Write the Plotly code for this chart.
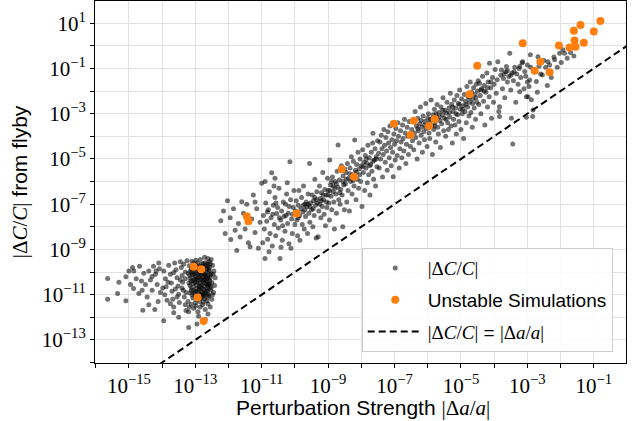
import plotly.graph_objects as go

# ---- data: (log10 |Δa/a|, log10 |ΔC/C|) ----
cluster_a_core = [
(-13.18,-9.72),(-13.05,-9.61),(-12.93,-9.78),(-12.81,-9.66),(-12.70,-9.59),(-12.62,-9.74),(-12.55,-9.63),(-13.12,-9.88),(-12.99,-9.95),(-12.87,-9.84),
(-12.76,-9.92),(-12.66,-9.86),(-12.58,-9.97),(-13.21,-10.05),(-13.08,-10.12),(-12.96,-10.03),(-12.84,-10.15),(-12.73,-10.07),(-12.63,-10.18),(-12.52,-10.09),
(-13.15,-10.27),(-13.02,-10.33),(-12.90,-10.24),(-12.79,-10.36),(-12.68,-10.29),(-12.57,-10.38),(-13.19,-10.48),(-13.06,-10.52),(-12.94,-10.44),(-12.82,-10.57),
(-12.71,-10.49),(-12.60,-10.55),(-12.50,-10.46),(-13.11,-10.69),(-12.98,-10.74),(-12.86,-10.66),(-12.75,-10.78),(-12.64,-10.71),(-12.54,-10.80),(-13.16,-10.91),
(-13.03,-10.96),(-12.91,-10.88),(-12.80,-11.01),(-12.69,-10.93),(-12.59,-11.04),(-13.07,-11.15),(-12.95,-11.21),(-12.83,-11.12),(-12.72,-11.18),(-12.61,-11.10),
(-13.10,-9.80),(-12.97,-9.70),(-12.85,-9.75),(-12.74,-9.80),(-12.60,-9.90),(-13.00,-10.20),(-12.88,-10.05),(-12.78,-10.22),(-12.67,-10.00),(-12.55,-10.25),
(-13.13,-10.40),(-12.92,-10.36),(-12.77,-10.42),(-12.65,-10.40),(-12.98,-10.60),(-12.86,-10.50),(-12.73,-10.62),(-12.62,-10.62),(-13.05,-10.82),(-12.90,-10.80),
(-12.78,-10.88),(-12.67,-10.84),(-12.95,-11.05),(-12.85,-10.98),(-12.75,-11.08),(-13.09,-10.02),(-12.82,-9.95),(-12.70,-10.12),(-12.58,-10.52),(-12.88,-11.30),
(-12.76,-11.32),(-12.65,-11.27),(-13.00,-11.36),
(-13.14,-9.95),(-13.02,-9.85),(-12.89,-9.90),(-12.79,-9.75),(-12.68,-9.72),(-12.57,-9.80),(-13.17,-10.15),(-13.04,-10.10),(-12.91,-10.12),(-12.80,-10.05),
(-12.69,-10.20),(-12.56,-10.12),(-13.08,-10.35),(-12.96,-10.28),(-12.83,-10.30),(-12.72,-10.34),(-12.61,-10.28),(-13.16,-10.60),(-13.01,-10.45),(-12.88,-10.62),
(-12.79,-10.70),(-12.66,-10.52),(-12.55,-10.62),(-13.12,-10.80),(-12.99,-10.88),(-12.87,-10.75),(-12.76,-10.95),(-12.63,-10.82),(-13.10,-11.02),(-12.98,-11.12),
(-12.86,-11.18),(-12.73,-11.00),(-12.62,-10.98),(-12.93,-9.60),(-12.76,-9.62),(-12.64,-9.64),
]
cluster_a_outer = [
(-13.95,-9.95),(-13.90,-10.30),(-13.88,-10.65),(-13.92,-11.00),(-13.85,-11.25),(-13.80,-9.70),(-13.75,-10.10),(-13.72,-10.48),(-13.70,-10.85),(-13.68,-11.20),
(-13.65,-11.55),(-13.62,-9.60),(-13.58,-9.90),(-13.55,-10.25),(-13.52,-10.62),(-13.50,-10.98),(-13.48,-11.35),(-13.45,-9.55),(-13.42,-9.80),(-13.40,-10.15),
(-13.38,-10.45),(-13.36,-10.80),(-13.33,-11.10),(-13.30,-11.45),(-13.28,-11.70),(-13.25,-9.50),(-13.22,-11.30),(-13.18,-11.55),(-13.12,-11.42),(-13.05,-11.60),
(-12.98,-11.50),(-12.92,-11.75),(-12.85,-11.55),(-12.78,-11.45),(-12.70,-11.65),(-12.62,-11.40),(-12.55,-11.55),(-12.50,-11.20),(-12.45,-10.90),(-12.42,-10.60),
(-12.40,-10.25),(-12.44,-9.95),(-12.48,-9.70),(-12.52,-9.45),(-12.62,-9.40),(-12.72,-9.35),(-12.85,-9.45),(-12.98,-9.48),(-13.10,-9.52),(-13.60,-10.75),
(-13.82,-10.45),(-13.98,-10.70),(-13.65,-10.02),(-13.45,-10.35),(-13.40,-10.70),(-13.55,-11.10),(-13.30,-10.00),(-13.30,-10.30),(-13.28,-10.90),(-13.35,-9.65),
(-12.46,-10.10),(-12.52,-10.70),(-12.48,-11.00),(-12.58,-9.55),(-13.75,-11.40),(-13.20,-11.75),(-12.90,-11.95),(-13.95,-12.15),(-13.50,-12.00),(-13.20,-12.45),
(-12.95,-12.30),(-12.70,-12.10),(-12.62,-11.85),(-13.65,-11.80),
]
cluster_a_tail = [
(-15.64,-10.28),(-15.64,-11.20),(-15.34,-10.95),(-15.09,-10.21),(-15.09,-11.27),(-14.89,-9.80),(-14.68,-9.74),(-14.86,-10.73),(-14.58,-11.69),(-14.26,-9.74),
(-14.78,-10.30),(-14.70,-10.95),(-14.55,-10.05),(-14.50,-10.55),(-14.45,-11.10),(-14.40,-9.95),(-14.35,-10.35),(-14.30,-10.80),(-14.20,-10.10),(-14.15,-10.55),
(-14.12,-11.30),(-14.08,-9.85),(-14.05,-10.90),(-14.95,-10.55),(-15.00,-9.95),(-14.62,-10.40),(-14.40,-11.45),(-14.22,-11.65),(-14.10,-9.60),(-14.85,-9.95),
(-15.30,-10.45),(-14.60,-10.80),(-14.30,-10.20),(-14.18,-9.95),
]
band_low = [
(-12.23,-7.73),(-12.03,-6.85),(-11.93,-8.56),(-11.80,-8.15),(-11.60,-6.89),(-11.25,-6.60),(-11.00,-6.08),(-12.10,-8.30),(-11.95,-7.60),(-11.85,-7.20),
(-11.70,-7.85),(-11.65,-8.45),(-11.55,-7.40),(-11.50,-8.10),(-11.45,-7.00),(-11.40,-8.70),(-11.35,-8.88),(-11.30,-7.65),(-11.20,-8.25),(-11.15,-7.20),
(-11.10,-8.95),(-11.05,-7.80),(-12.15,-7.30),(-11.75,-9.05),(-11.20,-6.90),
(-10.95,-7.50),(-10.92,-8.10),(-10.90,-9.40),(-10.88,-6.95),(-10.85,-7.75),(-10.82,-8.55),(-10.80,-7.25),(-10.77,-6.45),(-10.75,-8.30),(-10.72,-7.60),
(-10.70,-5.61),(-10.68,-8.85),(-10.65,-7.05),(-10.62,-7.90),(-10.60,-6.70),(-10.58,-8.40),(-10.55,-7.41),(-10.52,-7.15),(-10.50,-8.05),(-10.48,-6.30),
(-10.45,-9.40),(-10.43,-7.70),(-10.40,-7.30),(-10.38,-8.60),(-10.35,-6.90),(-10.33,-7.55),(-10.30,-8.20),(-10.28,-7.00),(-10.25,-6.55),(-10.22,-7.85),
(-10.20,-7.40),(-10.18,-8.75),(-10.15,-5.12),(-10.13,-6.80),(-10.10,-7.65),(-10.08,-8.30),(-10.05,-7.15),(-10.03,-6.40),(-10.00,-7.90),(-10.90,-6.00),
(-10.83,-7.35),(-10.67,-7.45),(-10.57,-6.95),(-10.47,-7.60),(-10.37,-7.95),(-10.27,-7.50),(-10.17,-7.10),(-10.07,-7.45),(-10.97,-8.70),(-10.78,-9.10),
(-10.63,-6.20),(-10.42,-8.90),(-10.23,-6.05),(-10.12,-8.95),(-10.60,-5.85),
]
band_mid = [
(-9.98,-7.30),(-9.96,-6.85),(-9.94,-7.70),(-9.92,-8.40),(-9.90,-7.05),(-9.88,-6.40),(-9.86,-7.50),(-9.85,-8.60),
(-9.82,-7.20),(-9.80,-6.70),(-9.78,-7.90),(-9.76,-7.35),(-9.74,-6.20),(-9.72,-8.10),(-9.70,-7.00),(-9.68,-7.55),
(-9.66,-6.90),(-9.64,-7.11),(-9.62,-8.30),(-9.60,-6.55),(-9.58,-7.40),(-9.56,-5.20),(-9.55,-7.80),(-9.53,-6.95),
(-9.50,-7.25),(-9.48,-6.60),(-9.46,-8.00),(-9.44,-6.85),(-9.42,-7.50),(-9.40,-5.90),(-9.38,-7.05),(-9.36,-8.50),(-9.34,-6.45),
(-9.32,-6.95),(-9.30,-8.44),(-9.28,-7.30),(-9.26,-6.20),(-9.24,-6.75),(-9.22,-7.60),(-9.20,-6.50),(-9.18,-7.10),(-9.16,-5.60),
(-9.14,-6.80),(-9.12,-7.45),(-9.10,-6.35),(-9.08,-7.95),(-9.06,-6.60),(-9.04,-7.15),(-9.02,-5.85),(-9.00,-6.40),(-8.98,-6.95),
(-8.96,-7.70),(-8.95,-5.05),(-8.93,-6.15),(-8.91,-6.65),(-8.89,-7.25),(-8.87,-5.80),(-8.85,-6.45),(-8.83,-6.90),(-8.81,-8.10),
(-8.79,-6.00),(-8.77,-6.55),(-8.75,-7.40),(-8.73,-5.55),(-8.71,-6.25),(-8.70,-4.38),(-8.68,-6.80),(-8.66,-5.93),(-8.64,-7.00),
(-8.62,-6.35),(-8.60,-5.30),(-8.58,-6.60),(-8.56,-8.00),(-8.55,-5.75),(-8.53,-6.15),(-8.51,-7.25),(-8.50,-5.45),
(-9.90,-7.60),(-9.75,-7.05),(-9.60,-7.00),(-9.45,-7.20),(-9.35,-6.80),(-9.25,-7.00),(-9.15,-6.60),(-9.05,-6.90),(-8.95,-6.40),(-8.85,-6.20),
(-8.75,-6.10),(-8.65,-6.50),(-8.55,-6.00),(-9.70,-7.25),(-9.55,-7.10),(-9.40,-6.70),(-9.20,-6.85),(-9.00,-6.60),(-8.90,-6.00),(-8.80,-6.30),
(-8.48,-6.10),(-8.46,-5.60),(-8.44,-6.90),(-8.42,-5.20),(-8.40,-6.40),(-8.38,-5.85),(-8.36,-7.30),(-8.34,-5.40),(-8.32,-6.00),(-8.30,-4.90),
(-8.28,-6.55),(-8.26,-5.70),(-8.24,-5.10),(-8.22,-6.20),(-8.20,-4.16),(-8.18,-5.50),(-8.16,-6.80),(-8.14,-5.25),(-8.12,-5.90),(-8.10,-4.70),
(-8.08,-6.30),(-8.06,-5.45),(-8.04,-5.00),(-8.02,-6.00),(-8.00,-5.30),(-7.98,-7.10),(-7.96,-4.60),(-7.94,-5.60),(-7.92,-5.15),(-7.90,-6.40),
(-7.88,-4.85),(-7.86,-5.40),(-7.84,-5.19),(-7.82,-6.05),(-7.80,-4.40),(-7.78,-5.70),(-7.76,-4.95),(-7.74,-6.60),(-7.72,-5.25),(-7.70,-4.70),
(-7.68,-5.55),(-7.66,-4.30),(-7.65,-3.87),(-7.63,-5.90),(-7.61,-5.05),(-7.59,-4.55),(-7.57,-6.20),(-7.55,-4.90),(-7.53,-5.35),(-7.51,-4.20),
(-8.45,-5.90),(-8.35,-5.65),(-8.25,-5.95),(-8.15,-5.60),(-8.05,-5.70),(-7.95,-5.35),(-7.85,-5.00),(-7.75,-5.30),(-7.65,-5.10),(-7.55,-5.00),
(-7.48,-4.75),(-7.46,-5.40),(-7.44,-4.25),(-7.42,-5.00),(-7.40,-3.95),(-7.38,-4.55),(-7.36,-5.80),(-7.34,-4.80),(-7.32,-3.70),(-7.30,-4.40),
(-7.28,-5.15),(-7.26,-4.05),(-7.24,-4.65),(-7.22,-5.50),(-7.20,-3.80),(-7.18,-4.30),(-7.16,-4.95),(-7.14,-3.55),(-7.12,-4.50),(-7.10,-5.30),
(-7.08,-4.15),(-7.06,-4.70),(-7.04,-5.79),(-7.02,-3.90),(-7.00,-4.35),(-6.98,-5.05),(-6.96,-3.65),(-6.94,-4.20),(-6.92,-4.85),(-6.90,-3.40),
(-6.88,-4.00),(-6.86,-5.40),(-6.84,-4.55),(-6.82,-3.75),(-6.80,-4.25),(-6.78,-4.95),(-6.76,-3.50),(-6.74,-4.10),(-6.72,-4.65),(-6.70,-3.25),
(-6.68,-3.85),(-6.66,-5.20),(-6.64,-4.35),(-6.62,-3.60),(-6.60,-4.00),(-6.58,-4.80),(-6.56,-3.35),(-6.54,-3.90),(-6.52,-4.45),
]
band_high = [
(-6.48,-3.70),(-6.46,-4.20),(-6.44,-3.30),(-6.42,-4.60),(-6.40,-3.85),(-6.38,-2.90),(-6.36,-4.05),(-6.34,-3.55),(-6.32,-5.00),(-6.30,-3.20),
(-6.28,-3.75),(-6.26,-4.30),(-6.24,-3.45),(-6.22,-2.70),(-6.20,-3.95),(-6.18,-3.60),(-6.16,-4.70),(-6.14,-3.10),(-6.12,-3.80),(-6.10,-4.15),
(-6.08,-3.35),(-6.06,-2.55),(-6.04,-3.65),(-6.02,-4.45),(-6.00,-3.50),(-5.98,-3.00),(-5.96,-3.85),(-5.94,-4.10),(-5.92,-3.25),(-5.90,-2.40),
(-5.88,-3.55),(-5.86,-4.80),(-5.84,-3.05),(-5.82,-3.70),(-5.80,-2.80),(-5.78,-3.40),(-5.76,-4.25),(-5.74,-3.15),(-5.72,-2.60),(-5.70,-3.60),
(-5.68,-3.90),(-5.66,-2.95),(-5.64,-3.30),(-5.62,-4.50),(-5.60,-2.70),(-5.58,-3.45),(-5.56,-3.05),(-5.54,-2.30),(-5.52,-3.75),(-5.50,-3.20),
(-5.48,-2.85),(-5.46,-4.00),(-5.44,-2.98),(-5.42,-2.50),(-5.40,-3.40),(-5.38,-3.70),(-5.36,-2.75),(-5.34,-3.15),(-5.32,-2.10),(-5.30,-3.55),
(-5.28,-2.60),(-5.26,-4.30),(-5.24,-2.90),(-5.22,-3.25),(-5.20,-2.40),(-5.18,-3.50),(-5.16,-2.75),(-5.14,-3.90),(-5.12,-2.20),(-5.10,-3.05),
(-5.08,-2.55),(-5.06,-3.35),(-5.04,-1.95),(-5.02,-2.80),(-5.00,-3.70),(-4.98,-2.35),(-4.96,-3.00),(-4.94,-2.65),(-4.92,-4.10),(-4.90,-2.15),
(-4.88,-2.90),(-4.86,-2.45),(-4.84,-3.40),(-4.82,-1.80),(-4.80,-2.70),(-4.78,-2.25),(-4.76,-3.10),(-4.74,-2.50),(-4.72,-1.60),(-4.70,-2.95),
(-4.68,-2.05),(-4.66,-3.60),(-4.64,-2.35),(-4.62,-1.85),(-4.60,-2.75),(-4.58,-2.15),(-4.56,-3.25),(-4.54,-1.70),(-4.52,-2.50),(-4.50,-2.00),
(-6.30,-3.65),(-6.10,-3.50),(-5.95,-3.40),(-5.85,-3.20),(-5.75,-3.00),(-5.65,-3.15),(-5.55,-2.85),(-5.45,-3.25),(-5.35,-2.95),(-5.25,-2.70),
(-5.15,-3.00),(-5.05,-2.60),(-4.95,-2.80),(-4.85,-2.60),(-4.75,-2.30),(-4.65,-2.55),(-4.55,-2.30),(-6.20,-3.30),(-6.00,-3.20),(-5.80,-3.55),
(-4.48,-1.55),(-4.46,-2.60),(-4.44,-1.65),(-4.42,-2.20),(-4.40,-3.00),(-4.38,-1.90),(-4.35,-1.35),(-4.32,-2.45),(-4.30,-1.75),(-4.28,-3.50),
(-4.25,-2.05),(-4.22,-1.20),(-4.20,-2.70),(-4.18,-1.60),(-4.15,-2.25),(-4.14,-0.77),(-4.10,-1.85),(-4.08,-3.20),(-4.05,-1.40),(-4.02,-2.50),
(-4.00,-1.70),(-3.97,-1.05),(-3.94,-2.10),(-3.91,-1.50),(-3.89,-0.70),(-3.86,-2.90),(-3.84,-2.69),(-3.84,-3.13),(-3.80,-1.30),(-3.78,-1.07),
(-3.75,-1.90),(-3.72,-1.45),(-3.68,-2.30),(-3.65,-1.15),(-3.63,-0.92),(-3.60,-1.60),(-3.56,-1.36),(-3.53,-0.33),(-3.50,-1.95),(-3.48,-3.20),
(-3.46,-1.20),(-3.44,-4.34),(-3.42,-1.55),(-3.38,-0.95),(-3.35,-2.50),(-3.32,-1.25),(-3.28,-1.70),(-3.25,-1.00),(-3.23,-0.92),(-3.23,-2.03),
(-3.20,-1.40),(-3.16,-0.75),(-3.14,-0.70),(-3.10,-1.90),(-3.08,-1.14),(-3.05,-1.35),(-3.03,-2.25),(-3.03,-3.16),(-3.00,-0.85),
(-4.40,-1.95),(-4.30,-2.00),(-4.20,-1.85),(-4.10,-1.60),(-3.70,-1.25),(-3.60,-1.10),(-3.50,-1.30),(-3.40,-1.15),
(-2.98,-2.25),(-2.93,-1.51),(-2.91,-0.40),(-2.88,-2.39),(-2.84,-3.13),(-2.83,-2.84),(-2.80,-1.05),(-2.73,-1.58),(-2.68,-0.48),(-2.65,-0.90),
(-2.60,-1.25),(-2.55,-1.29),(-2.50,-0.65),(-2.45,-0.95),(-2.38,-0.70),(-2.33,-0.85),(-2.28,-1.40),(-2.20,-0.50),(-2.18,-0.62),(-2.10,-0.95),
(-2.03,-0.33),(-1.98,-0.74),(-1.93,-0.18),(-1.88,-0.33),(-1.80,-0.55),(-1.70,-0.30),(-1.60,-0.45),(-2.90,-0.95),(-2.70,-2.05),(-2.40,-1.75),
(-3.00,-1.60),(-2.95,-1.80),
]
unstable = [
(-13.05,-9.77),(-12.82,-9.88),(-12.93,-11.12),(-12.75,-12.16),
(-11.45,-7.53),(-11.40,-7.75),(-9.95,-7.41),(-8.59,-5.46),(-8.22,-5.79),
(-7.02,-3.45),(-6.42,-3.31),(-6.52,-3.94),(-5.79,-3.23),(-5.96,-3.54),
(-4.74,-2.14),(-4.51,-0.88),(-3.14,0.115),(-2.61,-0.70),(-2.78,-1.10),
(-2.33,-1.17),(-2.05,0.01),(-1.73,-0.08),(-1.55,-0.04),(-1.58,0.23),
(-1.30,0.14),(-1.60,0.67),(-1.40,0.92),(-1.00,0.63),(-0.80,1.10),
]
identity_x = [1e-16, 1e0]
x_major_exp = list(range(-15, 0, 2))
x_minor_exp = list(range(-16, 1, 2))
y_major_exp = list(range(-13, 2, 2))
y_minor_exp = list(range(-14, 2, 2))

grey = cluster_a_core + cluster_a_outer + cluster_a_tail + band_low + band_mid + band_high
gx = [10 ** p[0] for p in grey]
gy = [10 ** p[1] for p in grey]
ux = [10 ** p[0] for p in unstable]
uy = [10 ** p[1] for p in unstable]

SERIF = "Liberation Serif"
SANS = "Liberation Sans"

def sup(k):
    return "10<sup>" + ("\u2212" + str(-k) if k < 0 else str(k)) + "</sup>"

def m(s):
    return f'<span style="font-family:{SERIF}">{s}</span>'

lbl_dc = m("|Δ<i>C</i>/<i>C</i>|")
lbl_da = m("|Δ<i>a</i>/<i>a</i>|")

fig = go.Figure()
fig.add_trace(go.Scatter(
    x=gx, y=gy, mode="markers", name=lbl_dc, legendgroup="g1",
    marker=dict(color="rgba(0,0,0,0.55)", size=5, line=dict(width=0)),
))
fig.add_trace(go.Scatter(
    x=ux, y=uy, mode="markers", name="Unstable Simulations", legendgroup="g2",
    marker=dict(color="#ff7f0e", size=8, line=dict(width=0)),
))
fig.add_trace(go.Scatter(
    x=identity_x, y=identity_x, mode="lines", legendgroup="g3",
    name=lbl_dc + " = " + lbl_da,
    line=dict(color="black", width=2, dash="7px,4px"),
))

GRID = "#e2e2e2"
axis_common = dict(
    type="log", showgrid=True, gridcolor=GRID, gridwidth=1,
    showline=True, linecolor="black", linewidth=1, mirror=True,
    ticks="outside", ticklen=4, tickwidth=1, tickcolor="black",
    zeroline=False, automargin=False,
    tickfont=dict(family=SERIF, size=21, color="black"),
)
fig.update_xaxes(
    **axis_common, range=[-16.02, -0.03],
    tickmode="array", tickvals=[10 ** k for k in x_major_exp],
    ticktext=[sup(k) for k in x_major_exp],
    minor=dict(tickmode="array", tickvals=[10 ** k for k in x_minor_exp],
               ticks="outside", ticklen=4, tickcolor="black",
               showgrid=True, gridcolor=GRID),
)
fig.update_yaxes(
    **axis_common, range=[-14.02, 1.98],
    tickmode="array", tickvals=[10 ** k for k in y_major_exp],
    ticktext=[sup(k) for k in y_major_exp],
    minor=dict(tickmode="array", tickvals=[10 ** k for k in y_minor_exp],
               ticks="outside", ticklen=4, tickcolor="black",
               showgrid=True, gridcolor=GRID),
    title=dict(text=lbl_dc + " from flyby",
               font=dict(family=SANS, size=21, color="black"), standoff=8),
)
fig.add_annotation(
    text="Perturbation Strength " + lbl_da,
    xref="paper", yref="paper", x=0.505, y=-0.125,
    xanchor="center", yanchor="middle", showarrow=False,
    font=dict(family=SANS, size=21, color="black"),
)
fig.update_layout(
    width=638, height=421, autosize=False,
    margin=dict(l=95, r=12, t=1, b=58),
    plot_bgcolor="white", paper_bgcolor="white",
    font=dict(family=SANS, color="black"),
    legend=dict(
        x=0.975, y=0.03, xanchor="right", yanchor="bottom",
        bgcolor="rgba(255,255,255,0.85)", bordercolor="#cccccc", borderwidth=1,
        font=dict(family=SANS, size=19, color="black"),
        itemwidth=55, tracegroupgap=4,
    ),
)
fig.write_html("out.html", config={"displayModeBar": False},
               post_script="document.body.style.margin='0';")
